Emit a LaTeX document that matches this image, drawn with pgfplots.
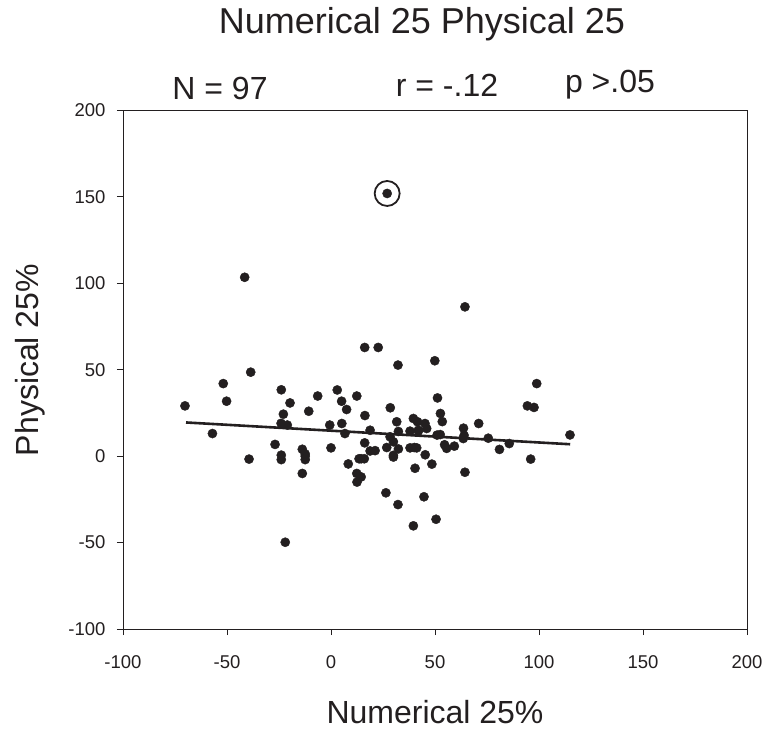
\documentclass[border=0pt]{standalone}
\usepackage{fontspec}
\setmainfont{Liberation Sans}
\usepackage{pgfplots}
\pgfplotsset{compat=1.18}
\definecolor{ink}{HTML}{231F20}

\begin{document}
\begin{tikzpicture}
% page frame
\path[use as bounding box] (-123pt,-119pt) rectangle (647pt,629pt);
\begin{axis}[
  at={(0pt,0pt)}, anchor=south west,
  scale only axis, width=624pt, height=518.5pt,
  xmin=-100, xmax=200, ymin=-100, ymax=200,
  xtick={-100,-50,...,200}, ytick={-100,-50,...,200},
  tick align=outside, tick pos=left,
  major tick length=6pt,
  axis line style={line width=0.9pt, ink},
  tick style={line width=0.9pt, ink},
  ticklabel style={font=\fontsize{18.5}{20}\selectfont, text=ink},
  xticklabel style={yshift=-17pt},
  yticklabel style={xshift=-8pt},
  /pgf/number format/assume math mode=true,
  clip=false,
]
% individual cases
\addplot[only marks, mark=*, mark size=4.6pt, ink, mark options={draw=ink, fill=ink}] coordinates {
(-70.2,29.1) (-57,13.1) (-51.8,42) (-50.2,31.8) (-41.5,103.5) (-38.6,48.6)
(-39.4,-1.7) (-23.9,38.4) (-22.9,24.3) (-19.7,30.8) (-24,19) (-21,18)
(-26.9,6.8) (-23.9,0.6) (-23.9,-2) (-22,-49.8) (-10.7,26) (-13.8,4)
(-12.4,1.3) (-12.4,-2) (-13.8,-10) (-6.4,34.8) (-0.6,18) (0,4.8)
(3,38.3) (5.1,31.8) (7.5,27) (5.2,18.9) (6.7,13.1) (8.3,-4.5)
(12.4,34.8) (13.5,-1.5) (16,-1.5) (12.4,-10) (14.5,-12) (12.5,-15)
(16.2,62.9) (22.7,62.9) (16.3,23.5) (16.2,7.7) (18.8,15) (18.8,3)
(21.2,3.2) (27,152) (28.5,28) (31.6,19.9) (32.2,52.7) (32.4,14.3)
(28.4,11.2) (30,8.3) (26.8,5) (32.4,4.2) (30,-0.5) (26.4,-21.2)
(32.2,-28) (38,14.5) (42,14.5) (39.6,21.8) (41.6,19.9) (45.2,18.9)
(46,16) (38,4.8) (41.2,4.8) (45.3,0.8) (48.5,-4.6) (40.4,-7)
(44.7,-23.5) (39.6,-40.3) (50.5,-36.5) (49.9,55.2) (51.2,33.7) (52.6,24.7)
(53.5,20) (51,12.2) (54.6,6.6) (55.6,4.5) (59.3,5.8) (63.7,16.2)
(63.6,10.2) (64.4,86.4) (64.4,-9.3) (71,18.9) (75.6,10.4) (81,3.9)
(85.7,7.3) (94.4,29.1) (97.6,28.2) (98.9,42) (96,-1.7) (114.9,12.3)
(40,5) (30,0.5) (14.5,-1.5) (52.5,12.5) (-12.4,0) (42,15) (64,12)
};
% ring round the outlying case
\addplot[only marks, mark=o, mark size=12.5pt, mark options={draw=ink, line width=1.8pt}] coordinates {(27,152)};
% least-squares line
\addplot[ink, line width=2.6pt] coordinates {(-69.7,19.5) (115,6.9)};
\end{axis}
\node[text=ink, font=\fontsize{36}{40}\selectfont] at (299pt,605pt) {Numerical 25 Physical 25};
\node[text=ink, font=\fontsize{32}{36}\selectfont] at (97pt,541pt) {N = 97};
\node[text=ink, font=\fontsize{32}{36}\selectfont] at (324pt,544pt) {r = -.12};
\node[text=ink, font=\fontsize{32}{36}\selectfont] at (487pt,544pt) {p >.05};
\node[text=ink, font=\fontsize{32}{36}\selectfont] at (312pt,-83pt) {Numerical 25\%};
\node[text=ink, font=\fontsize{32}{36}\selectfont, rotate=90] at (-93pt,269pt) {Physical 25\%};
\end{tikzpicture}
\end{document}
